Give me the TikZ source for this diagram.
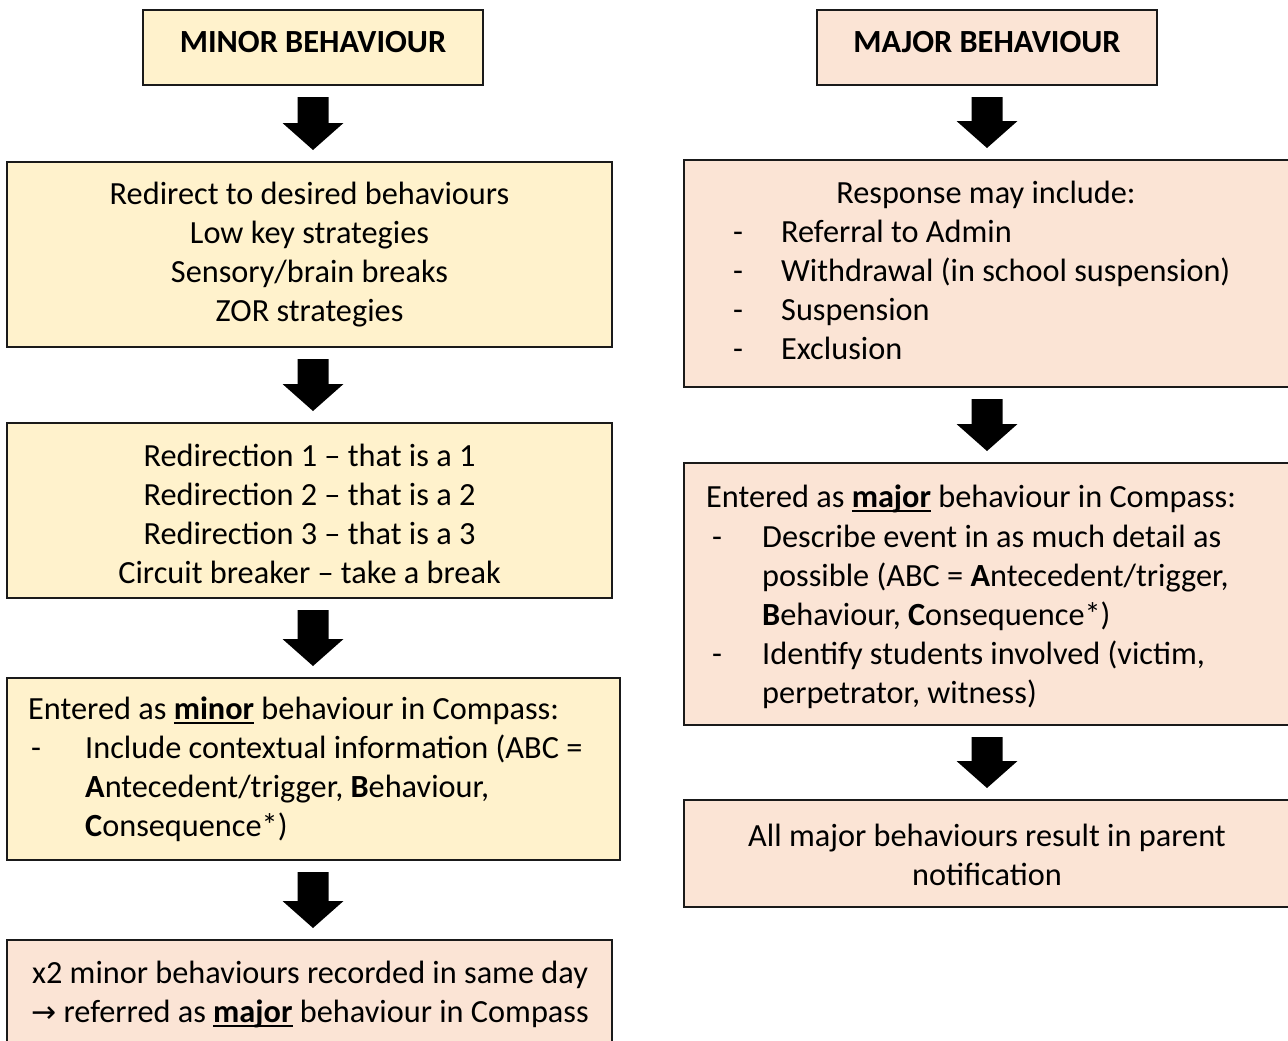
\documentclass[tikz,border=0pt]{standalone}
\usepackage{fontspec}
\setmainfont{Carlito}
\newfontfamily\djv{DejaVu Sans}
\usetikzlibrary{calc}
\definecolor{minorfill}{HTML}{FFF2CC}
\definecolor{majorfill}{HTML}{FBE4D5}
\definecolor{boxline}{HTML}{1A1A1A}
\newcommand\ulbf[1]{\setbox0\hbox{\bfseries #1}\rlap{\rule[-4.5pt]{\wd0}{2pt}}\box0\relax}
\newcommand\barrow[2]{%
  \fill[black] let \p1=#1, \p2=#2 in
    (\x1-15.5pt,\y1-12pt) -- (\x1+15.5pt,\y1-12pt) -- (\x1+15.5pt,\y2+39pt)
    -- (\x1+30.5pt,\y2+39pt) -- (\x1,\y2+12pt) -- (\x1-30.5pt,\y2+39pt)
    -- (\x1-15.5pt,\y2+39pt) -- cycle;}
\begin{document}
\begin{tikzpicture}[x=1pt,y=-1pt,
  box/.style={draw=boxline,line width=1.4pt,anchor=north west,inner sep=0pt,outer sep=0pt},
  ybox/.style={box,fill=minorfill},
  pbox/.style={box,fill=majorfill},
  txt/.style={inner sep=0pt,font=\fontsize{32.3}{39}\selectfont},
  ttl/.style={inner sep=0pt,font=\fontsize{32.3}{39}\selectfont\bfseries,anchor=base},
  ctr/.style={txt,anchor=base},
  lft/.style={txt,anchor=base west}]
\useasboundingbox (0,0) rectangle (1288,1041);
\clip (0,0) rectangle (1288,1041);
\fill[white] (0,0) rectangle (1288,1041);

% ---------- left column ----------
\node[ybox,minimum width=340pt,minimum height=75pt] (t1) at (143,10) {};
\node[ttl] (t1a) at (313,53) {MINOR BEHAVIOUR};

\node[ybox,minimum width=605pt,minimum height=185pt] (b2) at (7,162) {};
\node[ctr] (b2a) at (309.5,204) {Redirect to desired behaviours};
\node[ctr] (b2b) at (309.5,243) {Low key strategies};
\node[ctr] (b2c) at (309.5,282) {Sensory/brain breaks};
\node[ctr] (b2d) at (309.5,321) {ZOR strategies};

\node[ybox,minimum width=605pt,minimum height=175pt] (b3) at (7,423) {};
\node[ctr] (b3a) at (309.5,466) {Redirection 1 -- that is a 1};
\node[ctr] (b3b) at (309.5,505) {Redirection 2 -- that is a 2};
\node[ctr] (b3c) at (309.5,544) {Redirection 3 -- that is a 3};
\node[ctr] (b3d) at (309.5,583) {Circuit breaker -- take a break};

\node[ybox,minimum width=613pt,minimum height=182pt] (b4) at (7,678) {};
\node[lft] (b4a) at (28,719) {Entered as \ulbf{minor} behaviour in Compass:};
\node[lft] (b4d) at (31,758) {-};
\node[lft] (b4b) at (85,758) {Include contextual information (ABC =};
\node[lft] (b4c) at (85,797) {\textbf{A}ntecedent/trigger, \textbf{B}ehaviour,};
\node[lft] (b4e) at (85,836) {\textbf{C}onsequence*)};

\node[pbox,minimum width=605pt,minimum height=130pt] (b5) at (7,940) {};
\node[ctr] (b5a) at (310,983) {x2 minor behaviours recorded in same day};
\node[ctr] (b5b) at (310,1022) {{\djv\fontsize{30}{39}\selectfont →} referred as \ulbf{major} behaviour in Compass};

% ---------- right column ----------
\node[pbox,minimum width=340pt,minimum height=75pt] (t2) at (817,10) {};
\node[ttl] (t2a) at (987,53) {MAJOR BEHAVIOUR};

\node[pbox,minimum width=620pt,minimum height=227pt] (r2) at (684,160) {};
\node[ctr] (r2a) at (986,203) {Response may include:};
\node[lft] (r2d1) at (733,242) {-};
\node[lft] (r2b) at (781,242) {Referral to Admin};
\node[lft] (r2d2) at (733,281) {-};
\node[lft] (r2c) at (781,281) {Withdrawal (in school suspension)};
\node[lft] (r2d3) at (733,320) {-};
\node[lft] (r2e) at (781,320) {Suspension};
\node[lft] (r2d4) at (733,359) {-};
\node[lft] (r2f) at (781,359) {Exclusion};

\node[pbox,minimum width=620pt,minimum height=262pt] (r3) at (684,463) {};
\node[lft] (r3a) at (706,507) {Entered as \ulbf{major} behaviour in Compass:};
\node[lft] (r3d1) at (712,547) {-};
\node[lft] (r3b) at (762,547) {Describe event in as much detail as};
\node[lft] (r3c) at (762,586) {possible (ABC = \textbf{A}ntecedent/trigger,};
\node[lft] (r3e) at (762,625) {\textbf{B}ehaviour, \textbf{C}onsequence*)};
\node[lft] (r3d2) at (712,664) {-};
\node[lft] (r3f) at (762,664) {Identify students involved (victim,};
\node[lft] (r3g) at (762,703) {perpetrator, witness)};

\node[pbox,minimum width=620pt,minimum height=107pt] (r4) at (684,800) {};
\node[ctr] (r4a) at (987,846) {All major behaviours result in parent};
\node[ctr] (r4b) at (987,885) {notification};

% ---------- block arrows ----------
\barrow{(t1.south)}{(t1.south|-b2.north)}
\barrow{(t1.south|-b2.south)}{(t1.south|-b3.north)}
\barrow{(t1.south|-b3.south)}{(t1.south|-b4.north)}
\barrow{(t1.south|-b4.south)}{(t1.south|-b5.north)}
\barrow{(t2.south)}{(t2.south|-r2.north)}
\barrow{(t2.south|-r2.south)}{(t2.south|-r3.north)}
\barrow{(t2.south|-r3.south)}{(t2.south|-r4.north)}
\end{tikzpicture}
\end{document}
